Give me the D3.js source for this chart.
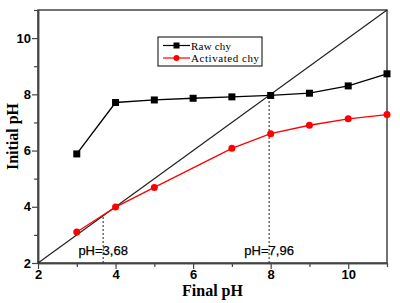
<!DOCTYPE html>
<html>
<head>
<meta charset="utf-8">
<script src="https://cdn.jsdelivr.net/npm/d3@7"></script>
<style>
  body { margin: 0; background: #fff; }
  .tick text { font-family: "Liberation Sans", Arial, sans-serif; font-weight: bold; font-size: 13px; fill: #000; }
</style>
</head>
<body>
<script>
var w = 400;
var h = 303;
var margin = {top: 10, right: 13, bottom: 40, left: 38};

var finalPH = [3, 4, 5, 6, 7, 8, 9, 10, 11];              // raw chy x values
var rawChy = [5.88, 7.71, 7.8, 7.86, 7.91, 7.96, 8.04, 8.3, 8.73];
var actPH = [3, 4, 5, 7, 8, 9, 10, 11];                   // activated chy x values
var actChy = [3.1, 3.99, 4.69, 6.08, 6.6, 6.9, 7.13, 7.28];
var pzc = [3.68, 7.96];                                   // crossing points
var pzcLabels = ["pH=3,68", "pH=7,96"];
var majorTicks = [2, 4, 6, 8, 10];
var minorTicks = [3, 5, 7, 9, 11];

var svg = d3.select("body")
            .append("svg")
            .attr("width", w)
            .attr("height", h);

var x = d3.scaleLinear().domain([2, 11]).range([margin.left, w - margin.right]);
var y = d3.scaleLinear().domain([2, 11]).range([h - margin.bottom, margin.top]);

// plot frame
svg.append("rect")
    .attr("x", x(2)).attr("y", y(11))
    .attr("width", x(11) - x(2)).attr("height", y(2) - y(11))
    .attr("fill", "none").attr("stroke", "#444").attr("stroke-width", 1.5);

// axes: major ticks with labels, minor ticks without
svg.append("g").attr("transform", "translate(0," + y(2) + ")")
    .call(d3.axisBottom(x).tickValues(majorTicks).tickSize(6).tickPadding(1).tickSizeOuter(0));
svg.append("g").attr("transform", "translate(0," + y(2) + ")")
    .call(d3.axisBottom(x).tickValues(minorTicks).tickSize(4).tickFormat("").tickSizeOuter(0));
svg.append("g").attr("transform", "translate(" + x(2) + ",0)")
    .call(d3.axisLeft(y).tickValues(majorTicks).tickSize(6).tickPadding(1).tickSizeOuter(0));
svg.append("g").attr("transform", "translate(" + x(2) + ",0)")
    .call(d3.axisLeft(y).tickValues(minorTicks).tickSize(4).tickFormat("").tickSizeOuter(0));
svg.selectAll(".domain").attr("stroke", "#444").attr("stroke-width", 1.5);
svg.selectAll(".tick line").attr("stroke", "#444").attr("stroke-width", 1.2);

// diagonal y = x
svg.append("line")
    .attr("x1", x(2)).attr("y1", y(2))
    .attr("x2", x(11)).attr("y2", y(11))
    .attr("stroke", "#222").attr("stroke-width", 1.2);

// dashed guide lines
pzc.forEach(function(v, i) {
    svg.append("line")
        .attr("x1", x(v)).attr("y1", y(2))
        .attr("x2", x(v)).attr("y2", y(v))
        .attr("stroke", "#333").attr("stroke-width", 1.1)
        .attr("stroke-dasharray", "2,2");
    svg.append("text")
        .attr("x", x(v)).attr("y", y(2) - 8)
        .attr("text-anchor", "middle")
        .attr("font-family", "Liberation Sans, Arial, sans-serif")
        .attr("font-size", 13)
        .attr("stroke", "#000").attr("stroke-width", 0.25)
        .text(pzcLabels[i]);
});

var line = d3.line().x(function(d) { return x(d[0]); }).y(function(d) { return y(d[1]); });

var rawData = d3.zip(finalPH, rawChy);
var actData = d3.zip(actPH, actChy);

svg.append("path").datum(rawData)
    .attr("d", line).attr("fill", "none").attr("stroke", "#000").attr("stroke-width", 1.3);
svg.selectAll("rect.raw").data(rawData).enter().append("rect")
    .attr("class", "raw")
    .attr("x", function(d) { return x(d[0]) - 3.5; })
    .attr("y", function(d) { return y(d[1]) - 3.5; })
    .attr("width", 7).attr("height", 7).attr("fill", "#000");

svg.append("path").datum(actData)
    .attr("d", line).attr("fill", "none").attr("stroke", "#f00").attr("stroke-width", 1.3);
svg.selectAll("circle.act").data(actData).enter().append("circle")
    .attr("class", "act")
    .attr("cx", function(d) { return x(d[0]); })
    .attr("cy", function(d) { return y(d[1]); })
    .attr("r", 3.5).attr("fill", "#f00");

// axis titles
svg.append("text")
    .attr("x", (x(2) + x(11)) / 2).attr("y", 296)
    .attr("text-anchor", "middle")
    .attr("font-family", "Liberation Serif, Times New Roman, serif")
    .attr("font-weight", "bold").attr("font-size", 16)
    .text("Final pH");
svg.append("text")
    .attr("transform", "translate(18," + (y(2) + y(11)) / 2 + ") rotate(-90)")
    .attr("text-anchor", "middle")
    .attr("font-family", "Liberation Serif, Times New Roman, serif")
    .attr("font-weight", "bold").attr("font-size", 16)
    .text("Initial pH");

// legend
var lg = svg.append("g").attr("transform", "translate(158,37)");
lg.append("rect").attr("width", 104).attr("height", 29)
    .attr("fill", "#fff").attr("stroke", "#000").attr("stroke-width", 1);
var legendItems = [["Raw chy", "#000", "square"], ["Activated chy", "#f00", "circle"]];
legendItems.forEach(function(item, i) {
    var ly = 8.5 + i * 12.5;
    lg.append("line").attr("x1", 5).attr("x2", 32).attr("y1", ly).attr("y2", ly)
        .attr("stroke", item[1]).attr("stroke-width", 1.2);
    if (item[2] === "square") {
        lg.append("rect").attr("x", 15.5).attr("y", ly - 3).attr("width", 6).attr("height", 6).attr("fill", item[1]);
    } else {
        lg.append("circle").attr("cx", 18.5).attr("cy", ly).attr("r", 3).attr("fill", item[1]);
    }
    lg.append("text").attr("x", 33).attr("y", ly + 4)
        .attr("font-family", "Liberation Serif, Times New Roman, serif")
        .attr("font-size", 11)
        .attr("textLength", i === 1 ? 68 : 40)
        .text(item[0]);
});
</script>
</body>
</html>
